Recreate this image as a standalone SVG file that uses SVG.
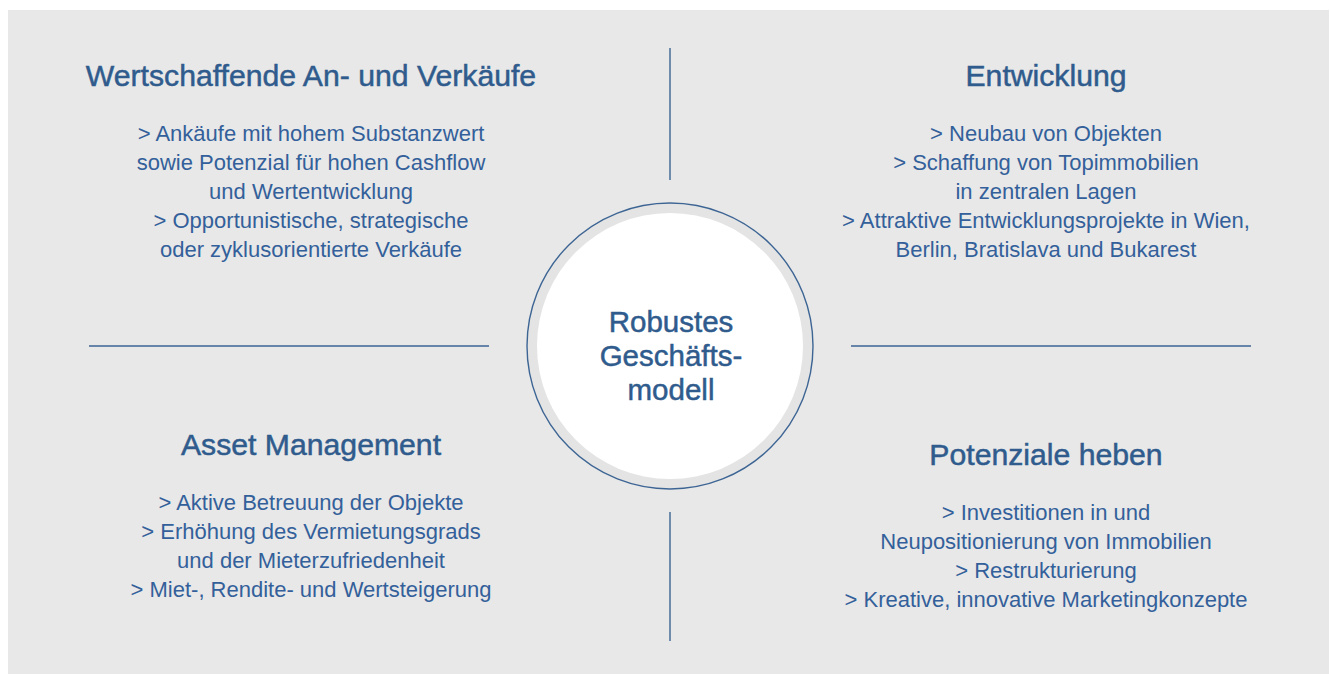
<svg xmlns="http://www.w3.org/2000/svg" width="1330" height="674" viewBox="0 0 1330 674">
<style>
.t{font-family:"Liberation Sans",Arial,sans-serif;fill:#2f5b8d;text-anchor:middle}
.h{font-size:30.2px;stroke:#2f5b8d;stroke-width:0.5}
.b{font-size:22px;fill:#33609a}
.c{font-size:29.5px;stroke:#2f5b8d;stroke-width:0.5}
.ln{stroke:#3d6594;stroke-width:1.4;fill:none}
</style>
<rect x="0" y="0" width="1330" height="674" fill="#ffffff"/>
<rect x="8" y="10" width="1321" height="664" fill="#e8e8e8"/>
<g id="connectors">
<line class="ln" x1="670" y1="48" x2="670" y2="180"/>
<line class="ln" x1="670" y1="512" x2="670" y2="641"/>
<line class="ln" x1="89" y1="346" x2="489" y2="346"/>
<line class="ln" x1="851" y1="346" x2="1251" y2="346"/>
</g>
<g id="center">
<circle cx="670" cy="346" r="143" fill="#e4e4e4" stroke="#3d6594" stroke-width="1.4"/>
<circle cx="670" cy="346" r="133" fill="#ffffff"/>
<text class="t c" x="671" y="332">Robustes</text>
<text class="t c" x="671" y="366">Geschäfts-</text>
<text class="t c" x="671" y="400">modell</text>
</g>
<g id="tl">
<text class="t h" x="311" y="86">Wertschaffende An- und Verkäufe</text>
<text class="t b" x="311" y="141">&gt; Ankäufe mit hohem Substanzwert</text>
<text class="t b" x="311" y="170">sowie Potenzial für hohen Cashflow</text>
<text class="t b" x="311" y="199">und Wertentwicklung</text>
<text class="t b" x="311" y="228">&gt; Opportunistische, strategische</text>
<text class="t b" x="311" y="257">oder zyklusorientierte Verkäufe</text>
</g>
<g id="tr">
<text class="t h" x="1046" y="86">Entwicklung</text>
<text class="t b" x="1046" y="141">&gt; Neubau von Objekten</text>
<text class="t b" x="1046" y="170">&gt; Schaffung von Topimmobilien</text>
<text class="t b" x="1046" y="199">in zentralen Lagen</text>
<text class="t b" x="1046" y="228">&gt; Attraktive Entwicklungsprojekte in Wien,</text>
<text class="t b" x="1046" y="257">Berlin, Bratislava und Bukarest</text>
</g>
<g id="bl">
<text class="t h" x="311" y="455">Asset Management</text>
<text class="t b" x="311" y="510">&gt; Aktive Betreuung der Objekte</text>
<text class="t b" x="311" y="539">&gt; Erhöhung des Vermietungsgrads</text>
<text class="t b" x="311" y="567.5">und der Mieterzufriedenheit</text>
<text class="t b" x="311" y="596.5">&gt; Miet-, Rendite- und Wertsteigerung</text>
</g>
<g id="br">
<text class="t h" x="1046" y="465">Potenziale heben</text>
<text class="t b" x="1046" y="520">&gt; Investitionen in und</text>
<text class="t b" x="1046" y="549">Neupositionierung von Immobilien</text>
<text class="t b" x="1046" y="578">&gt; Restrukturierung</text>
<text class="t b" x="1046" y="607">&gt; Kreative, innovative Marketingkonzepte</text>
</g>
</svg>
